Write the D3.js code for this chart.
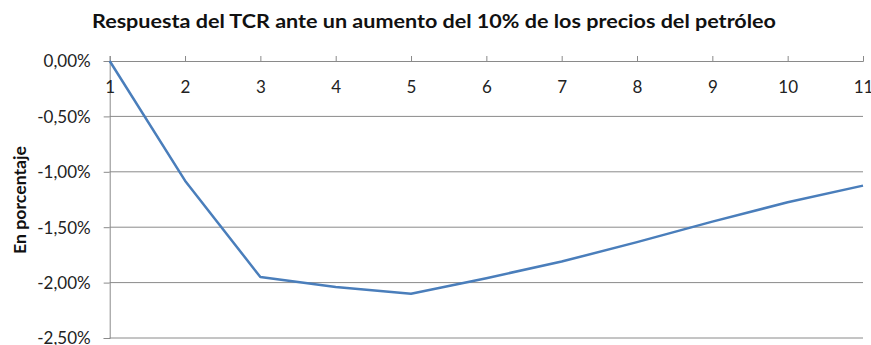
<!DOCTYPE html>
<html><head><meta charset="utf-8">
<script src="https://cdn.jsdelivr.net/npm/d3@7"></script>
<style>body{margin:0;background:#fff}svg{display:block}</style>
</head><body>
<script>
const periods = [1,2,3,4,5,6,7,8,9,10,11];
const values = [0, -1.08, -1.95, -2.04, -2.10, -1.96, -1.81, -1.635, -1.45, -1.275, -1.125];
const yTicks = [0, -0.5, -1, -1.5, -2, -2.5];
const title = "Respuesta del TCR ante un aumento del 10% de los precios del petróleo";
const yTitle = "En porcentaje";

const W = 871, H = 345;
const svg = d3.select("body").append("svg").attr("width", W).attr("height", H);
const font = "Lato, 'Open Sans', sans-serif";
const x = d3.scaleLinear().domain([1, 11]).range([109.7, 863]);
const y = d3.scaleLinear().domain([0, -2.5]).range([61, 338]);

// gridlines
svg.append("g").selectAll("line").data(yTicks.filter(d => d !== 0)).join("line")
  .attr("x1", x(1)).attr("x2", x(11)).attr("y1", d => y(d)).attr("y2", d => y(d))
  .attr("stroke", "#8a8a8a").attr("stroke-width", 1);

// y axis
const yAxis = svg.append("g").attr("transform", `translate(${x(1)},0)`)
  .call(d3.axisLeft(y).tickValues(yTicks).tickSize(6).tickPadding(13)
    .tickFormat(d => d3.format(".2f")(d).replace("−", "-").replace(".", ",") + "%"));
yAxis.select(".domain").attr("stroke", "#8a8a8a");
yAxis.selectAll(".tick line").attr("stroke", "#8a8a8a");
yAxis.selectAll("text").attr("font-family", font).attr("font-size", 17).attr("fill", "#222")
  .attr("dy", "0.35em");

// x axis at top (y=0)
const xAxis = svg.append("g").attr("transform", `translate(0,${y(0)})`)
  .call(d3.axisTop(x).tickValues(periods).tickSize(5).tickFormat(d3.format("d")));
xAxis.select(".domain").attr("stroke", "#8a8a8a");
xAxis.selectAll(".tick line").attr("stroke", "#8a8a8a");
xAxis.selectAll("text").attr("font-family", font).attr("font-size", 17).attr("fill", "#222")
  .attr("y", 32);

// line
svg.append("path").datum(periods.map((p, i) => [p, values[i]]))
  .attr("fill", "none").attr("stroke", "#4a7ebb").attr("stroke-width", 2.5)
  .attr("stroke-linejoin", "round")
  .attr("d", d3.line().x(d => x(d[0])).y(d => y(d[1])));

// title
svg.append("text").attr("x", 434).attr("y", 28).attr("text-anchor", "middle")
  .attr("font-family", font).attr("font-weight", "bold").attr("font-size", 19).attr("fill", "#111")
  .attr("textLength", 684).attr("lengthAdjust", "spacingAndGlyphs")
  .text(title);

// y title
svg.append("text").attr("transform", "translate(26,200) rotate(-90)").attr("text-anchor", "middle")
  .attr("font-family", font).attr("font-weight", "bold").attr("font-size", 17).attr("fill", "#111")
  .attr("textLength", 108).attr("lengthAdjust", "spacingAndGlyphs")
  .text(yTitle);
</script>
</body></html>
